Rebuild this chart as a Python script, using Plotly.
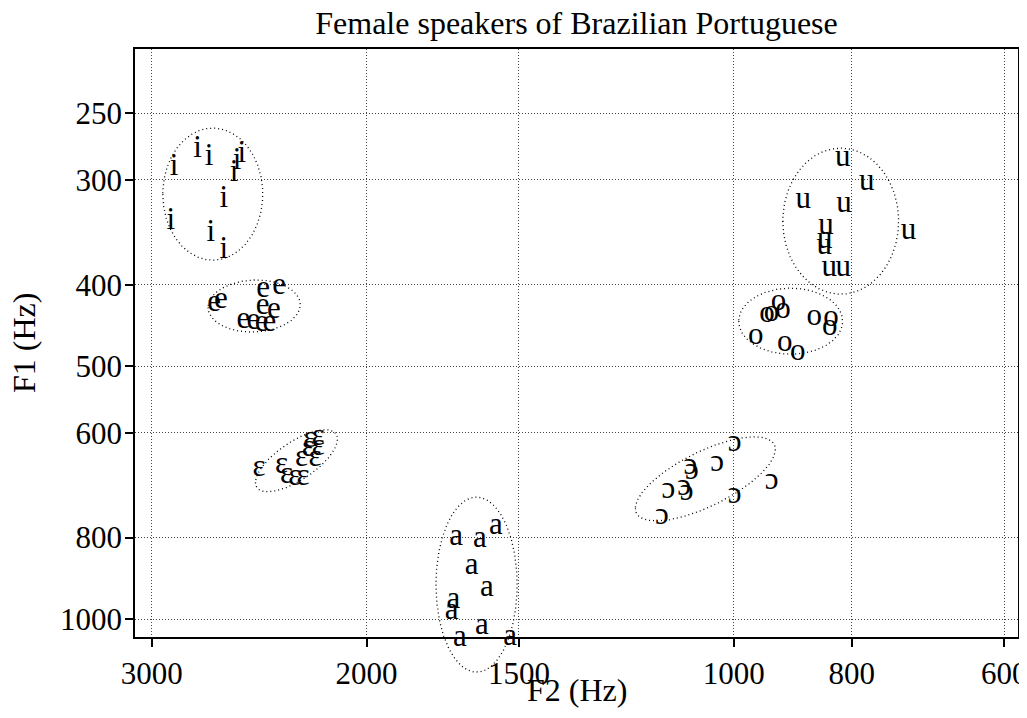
import numpy as np
import plotly.graph_objects as go

# ---------------- data ----------------
vowel_symbols = ["i", "e", "ɛ", "a", "ɔ", "o", "u"]

i_f2 = [2877, 2752, 2693, 2531, 2554, 2569, 2619, 2894, 2684, 2619]
i_f1 = [290, 276, 282, 280, 285, 295, 316, 336, 347, 364]

e_f2 = [2667, 2633, 2431, 2359, 2434, 2383, 2524, 2477, 2438, 2403]
e_f1 = [421, 417, 405, 402, 424, 429, 441, 442, 444, 445]

eps_f2 = [2450, 2348, 2326, 2290, 2255, 2226, 2191, 2233, 2191, 2261, 2205]
eps_f1 = [662, 656, 674, 678, 678, 611, 608, 626, 625, 644, 644]

a_f2 = [1689, 1615, 1567, 1640, 1594, 1698, 1703, 1609, 1677, 1525]
a_f1 = [799, 804, 775, 865, 919, 949, 980, 1021, 1054, 1050]

oo_f2 = [998, 1032, 1085, 1082, 1131, 1098, 1093, 998, 931, 1145]
oo_f1 = [618, 652, 658, 667, 702, 697, 706, 712, 686, 754]

o_f2 = [939, 931, 919, 911, 859, 832, 834, 959, 908, 886]
o_f1 = [434, 433, 420, 429, 437, 439, 449, 461, 470, 481]

u_f2 = [814, 778, 877, 812, 840, 842, 843, 719, 835, 813]
u_f1 = [283, 302, 317, 321, 341, 354, 360, 345, 382, 382]

# ellipse summaries per vowel: centre (Hz), spread (log10 decades), correlation
ell_f2 = [2674, 2473, 2283, 1625, 1055, 898, 817]
ell_f1 = [312, 424, 648, 910, 681, 442, 336]
ell_sd2 = [0.0410, 0.0378, 0.0337, 0.0333, 0.0574, 0.0426, 0.0475]
ell_sd1 = [0.0786, 0.0310, 0.0369, 0.1042, 0.0500, 0.0393, 0.0869]
ell_rho = [0.0, 0.05, 0.7, 0.0, 0.7, 0.0, 0.0]

x_ticks = [3000, 2000, 1500, 1000, 800, 600]
y_ticks = [250, 300, 400, 500, 600, 800, 1000]

title_text = "Female speakers of Brazilian Portuguese"
x_title = "F2 (Hz)"
y_title = "F1 (Hz)"

f2_lists = [i_f2, e_f2, eps_f2, a_f2, oo_f2, o_f2, u_f2]
f1_lists = [i_f1, e_f1, eps_f1, a_f1, oo_f1, o_f1, u_f1]

# ---------------- layout constants ----------------
# the page body adds an 8 px offset, so the figure is 8 px smaller
OFF = 8
W, H = 1027 - OFF, 718 - OFF
FONT = "Liberation Serif, Times New Roman, DejaVu Serif, serif"
m_l, m_r, m_t, m_b = 135 - OFF, 9, 49 - OFF, 30
plot_h = H - m_t - m_b
main_bottom_px = 637 - OFF
d = (H - m_b - main_bottom_px) / plot_h  # main y domain bottom fraction

x_range = [np.log10(3097), np.log10(584.6)]
y_range = [np.log10(1050.5), np.log10(209.6)]
span = y_range[0] - y_range[1]
y2_range = [y_range[1] + span / (1 - d), y_range[1]]

TICK_SIZE = 31
LABEL_SIZE = 32
SYM_SIZE = 31

fig = go.Figure()

# ellipses (drawn on an overlay subplot with the same scale, extending below
# the frame, so the part that leaves the frame is still drawn)
t = np.linspace(0, 2 * np.pi, 400)
for k in range(len(vowel_symbols)):
    cx, cy = np.log10(ell_f2[k]), np.log10(ell_f1[k])
    r = ell_rho[k]
    lx = cx + ell_sd2[k] * np.cos(t)
    ly = cy + ell_sd1[k] * (r * np.cos(t) + np.sqrt(1 - r * r) * np.sin(t))
    fig.add_trace(go.Scatter(
        x=10 ** lx, y=10 ** ly, mode="lines", xaxis="x2", yaxis="y2",
        line=dict(color="black", width=1.3, dash="1px,3px"),
        hoverinfo="skip", showlegend=False))

# vowel tokens (on the extended overlay too, so tokens on the frame edge show)
for sym, f2, f1 in zip(vowel_symbols, f2_lists, f1_lists):
    fig.add_trace(go.Scatter(
        x=f2, y=f1, mode="text", text=[sym] * len(f2),
        xaxis="x2", yaxis="y2",
        textposition="middle center", cliponaxis=False,
        textfont=dict(family=FONT, size=SYM_SIZE, color="black"),
        showlegend=False, name=sym))

# invisible anchor trace on the main axes
fig.add_trace(go.Scatter(x=[x_ticks[0]], y=[y_ticks[0]], mode="markers",
                         marker=dict(opacity=0), hoverinfo="skip",
                         showlegend=False))

axis_common = dict(
    type="log", showline=True, linecolor="black", linewidth=1.5, mirror=True,
    ticks="outside", ticklen=8, tickwidth=1.5, tickcolor="black",
    showgrid=True, gridcolor="#444", gridwidth=1, griddash="1px,2px",
    zeroline=False, tickfont=dict(family=FONT, size=TICK_SIZE, color="black"),
    ticklabeloverflow="allow", automargin=False,
)

fig.update_layout(
    width=W, height=H,
    margin=dict(l=m_l, r=m_r, t=m_t, b=m_b, autoexpand=False),
    paper_bgcolor="white", plot_bgcolor="rgba(0,0,0,0)",
    font=dict(family=FONT, color="black"),
    showlegend=False,
    xaxis=dict(axis_common, range=x_range, tickvals=x_ticks,
               ticktext=[str(v) for v in x_ticks], anchor="y", domain=[0, 1]),
    yaxis=dict(axis_common, range=y_range, tickvals=y_ticks,
               ticktext=[str(v) for v in y_ticks], anchor="x", domain=[d, 1],
               ticklabelstandoff=-3),
    xaxis2=dict(type="log", range=x_range, visible=False, anchor="y2",
                domain=[0, 1], showgrid=False, automargin=False),
    yaxis2=dict(type="log", range=y2_range, visible=False, anchor="x2",
                domain=[0, 1], showgrid=False, automargin=False),
    title=dict(text=title_text, x=0.5, xref="paper", y=1 - (23 - OFF) / H,
               yref="container", yanchor="middle", xanchor="center",
               font=dict(family=FONT, size=LABEL_SIZE, color="black")),
)

fig.add_annotation(text=x_title, xref="paper", yref="paper", x=0.5, y=0,
                   yanchor="middle", yshift=-((690 - OFF) - (H - m_b)),
                   showarrow=False,
                   font=dict(family=FONT, size=LABEL_SIZE, color="black"))
y_mid = d + (1 - d) / 2
fig.add_annotation(text=y_title, xref="paper", yref="paper", x=0, y=y_mid,
                   xanchor="center", yanchor="middle", xshift=-(m_l - (24 - OFF)),
                   textangle=-90, showarrow=False,
                   font=dict(family=FONT, size=LABEL_SIZE, color="black"))

fig.write_html("out.html")
